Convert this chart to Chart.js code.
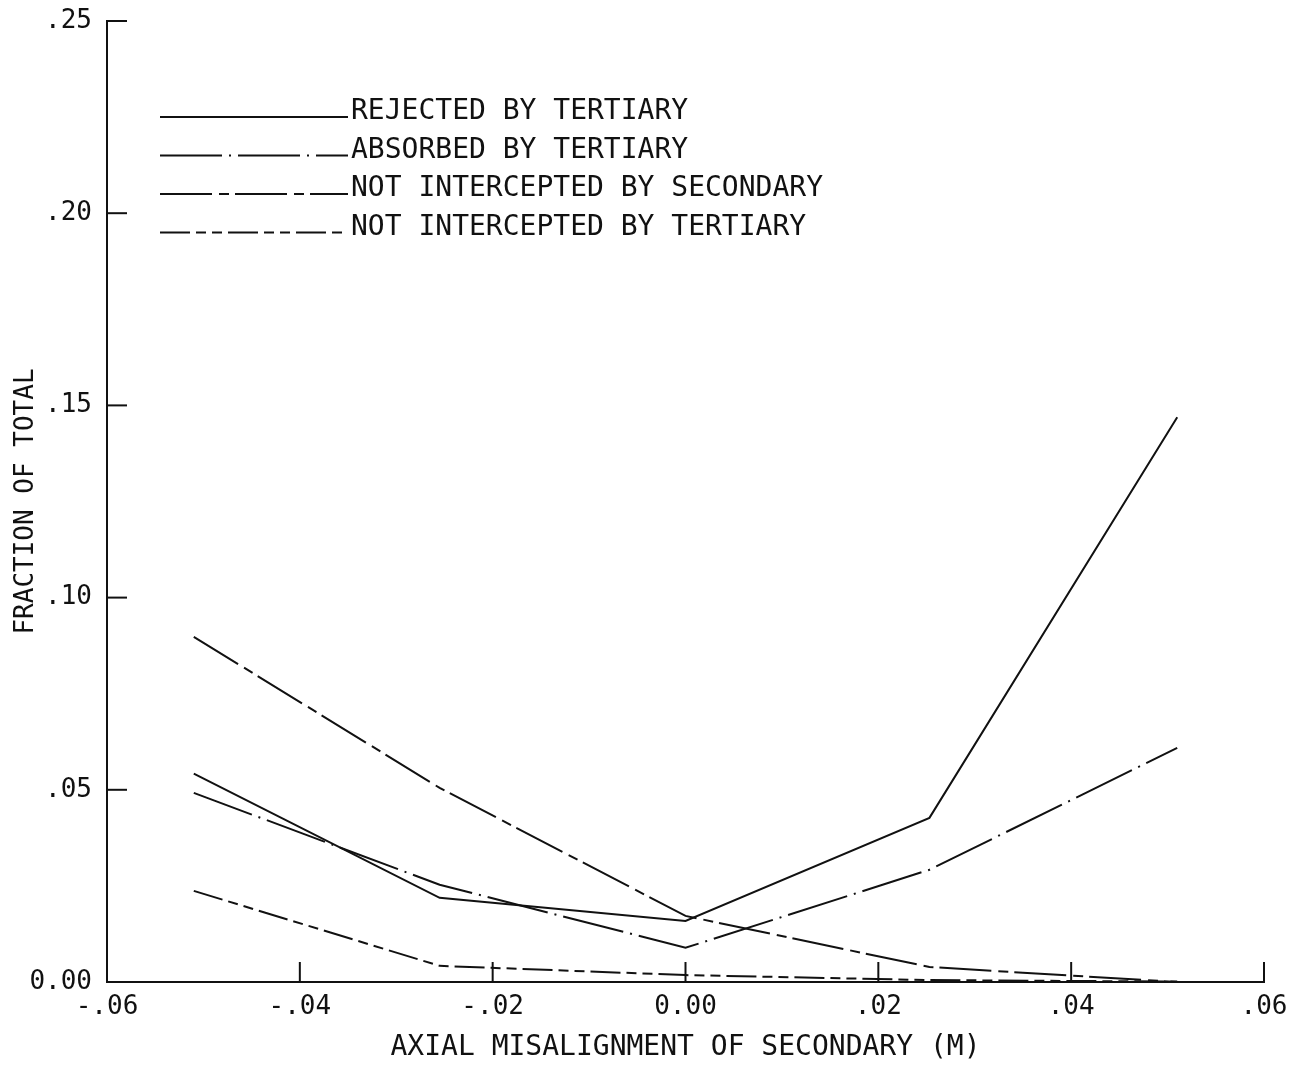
<!DOCTYPE html>
<html>
<head>
<meta charset="utf-8">
<script src="https://cdn.jsdelivr.net/npm/chart.js@4/dist/chart.umd.min.js"></script>
<style>
  html, body { margin: 0; padding: 0; background: #fff; }
  #wrap { width: 1302px; height: 1065px; position: relative; }
</style>
</head>
<body>
<div id="wrap"><canvas id="c"></canvas></div>
<script>
// ---- data ----
const xValues = [-0.051, -0.0255, 0.0, 0.0253, 0.051];
const rejectedByTertiary = [0.0542, 0.0219, 0.0159, 0.0427, 0.1469];
const absorbedByTertiary = [0.0492, 0.0253, 0.0089, 0.0292, 0.0609];
const notInterceptedBySecondary = [0.0898, 0.0505, 0.0172, 0.0039, 0.0000];
const notInterceptedByTertiary = [0.0237, 0.0042, 0.0018, 0.0005, 0.0001];
const seriesNames = ['REJECTED BY TERTIARY', 'ABSORBED BY TERTIARY', 'NOT INTERCEPTED BY SECONDARY', 'NOT INTERCEPTED BY TERTIARY'];
const xTickLabels = ['-.06', '-.04', '-.02', '0.00', '.02', '.04', '.06'];
const yTickLabels = ['0.00', '.05', '.10', '.15', '.20', '.25'];
const xTitle = 'AXIAL MISALIGNMENT OF SECONDARY (M)';
const yTitle = 'FRACTION OF TOTAL';

const FONT = '"DejaVu Sans Mono", "Liberation Mono", monospace';
const INK = '#111';
const dashes = [[], [62, 7, 2, 7], [52, 7, 10, 6], [30, 6, 10, 6, 10, 6]];
const allSeries = [rejectedByTertiary, absorbedByTertiary, notInterceptedBySecondary, notInterceptedByTertiary];

const datasets = allSeries.map((vals, i) => ({
  label: seriesNames[i],
  data: xValues.map((x, j) => ({x: x, y: vals[j]})),
  borderColor: INK,
  borderWidth: 2,
  borderDash: dashes[i],
  pointRadius: 0,
  tension: 0,
  fill: false
}));

const inwardTicks = {
  id: 'inwardTicks',
  afterDraw(chart) {
    const ctx = chart.ctx, a = chart.chartArea;
    const xs = chart.scales.x, ys = chart.scales.y;
    ctx.save();
    ctx.strokeStyle = INK;
    ctx.lineWidth = 2;
    ctx.setLineDash([]);
    xs.ticks.forEach(t => {
      const px = xs.getPixelForValue(t.value);
      ctx.beginPath(); ctx.moveTo(px, a.bottom); ctx.lineTo(px, a.bottom - 20); ctx.stroke();
    });
    ys.ticks.forEach(t => {
      const py = ys.getPixelForValue(t.value);
      ctx.beginPath(); ctx.moveTo(a.left, py); ctx.lineTo(a.left + 20, py); ctx.stroke();
    });
    ctx.restore();
  }
};

const plotLegend = {
  id: 'plotLegend',
  afterDatasetsDraw(chart) {
    const ctx = chart.ctx, a = chart.chartArea;
    const ys = chart.scales.y;
    ctx.save();
    ctx.strokeStyle = INK;
    ctx.fillStyle = INK;
    ctx.lineWidth = 2;
    ctx.font = '28px ' + FONT;
    ctx.textBaseline = 'alphabetic';
    ctx.textAlign = 'left';
    const x0 = a.left + 53, x1 = a.left + 241;
    const top = ys.getPixelForValue(0.25);
    chart.data.datasets.forEach((ds, i) => {
      const y = top + 96 + i * 38.5;
      ctx.setLineDash(ds.borderDash);
      ctx.beginPath(); ctx.moveTo(x0, y); ctx.lineTo(x1, y); ctx.stroke();
      ctx.setLineDash([]);
      ctx.fillText(ds.label, x1 + 3, y + 2);
    });
    ctx.restore();
  }
};

new Chart(document.getElementById('c'), {
  type: 'line',
  data: { datasets: datasets },
  plugins: [inwardTicks, plotLegend],
  options: {
    responsive: true,
    maintainAspectRatio: false,
    animation: false,
    layout: { padding: { top: 21, right: 38, left: 0, bottom: 0 } },
    plugins: { legend: { display: false }, tooltip: { enabled: false } },
    scales: {
      x: {
        type: 'linear',
        min: -0.06, max: 0.06,
        afterFit(s) { s.height = 83; s.paddingLeft = 0; s.paddingRight = 0; },
        grid: { display: false, drawTicks: false },
        border: { display: true, color: INK, width: 2 },
        ticks: {
          stepSize: 0.02,
          padding: 10,
          color: INK,
          font: { family: FONT, size: 26 },
          maxRotation: 0,
          autoSkip: false,
          callback: (v, i) => xTickLabels[i]
        },
        title: {
          display: true, text: xTitle, color: INK,
          font: { family: FONT, size: 28, lineHeight: 1.2 },
          padding: { top: 0, bottom: 0 }
        }
      },
      y: {
        type: 'linear',
        min: 0, max: 0.25,
        afterFit(s) { s.width = 107; s.paddingTop = 0; s.paddingBottom = 0; },
        grid: { display: false, drawTicks: false },
        border: { display: true, color: INK, width: 2 },
        ticks: {
          stepSize: 0.05,
          padding: 15,
          color: INK,
          font: { family: FONT, size: 26 },
          autoSkip: false,
          callback: (v, i) => yTickLabels[i]
        },
        title: {
          display: true, text: yTitle, color: INK,
          font: { family: FONT, size: 26, lineHeight: 1.2 },
          padding: { top: 11, bottom: 0 }
        }
      }
    }
  }
});
</script>
</body>
</html>
